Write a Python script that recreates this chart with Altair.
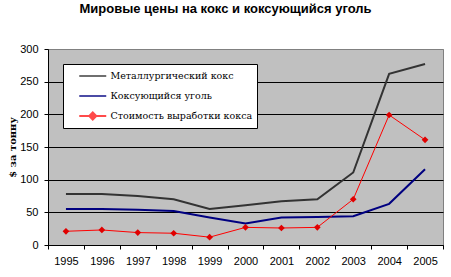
import altair as alt
import pandas as pd

years = [1995, 1996, 1997, 1998, 1999, 2000, 2001, 2002, 2003, 2004, 2005]
coke = [78, 78, 75, 70, 55, 61, 67, 70, 111, 262, 277]
coal = [55, 55, 54, 52, 42, 33, 42, 43, 44, 63, 116]
cost = [21, 23, 19, 18, 12, 27, 26, 27, 70, 199, 161]

series = ["Металлургический кокс", "Коксующийся уголь", "Стоимость выработки кокса"]
colors = ["#333333", "#000080", "#FF0000"]
widths = [2, 2, 1]

rows = []
for name, vals in zip(series, [coke, coal, cost]):
    for y, v in zip(years, vals):
        rows.append({"year": str(y), "value": v, "series": name})
df = pd.DataFrame(rows)

year_labels = [str(y) for y in years]
SERIF = "DejaVu Serif"
SANS = "Liberation Sans, Arial, sans-serif"

x_enc = alt.X("year:O", scale=alt.Scale(type="band", domain=year_labels, paddingInner=0, paddingOuter=0),
              axis=alt.Axis(title=None, labelAngle=0, tickBand="extent", tickSize=4, labelPadding=6,
                            labelFont=SANS, labelFontSize=11, labelColor="black",
                            domainColor="black", tickColor="black", grid=False))
y_enc = alt.Y("value:Q", scale=alt.Scale(domain=[0, 300], nice=False),
              axis=alt.Axis(title="$ за тонну", values=[0, 50, 100, 150, 200, 250, 300],
                            tickSize=4, labelPadding=6, labelFont=SANS, labelFontSize=11,
                            labelColor="black", domainColor="black", tickColor="black",
                            grid=True,
                            gridColor=alt.condition("datum.value == 300", alt.value("#808080"), alt.value("black")),
                            titleFont=SERIF, titleFontSize=10, titleFontWeight="bold",
                            titleAngle=270, titleX=-36, titleY=98, titleAlign="center", titleBaseline="middle",
                            titleColor="black"))

base = alt.Chart(df)

layers = []
for name, col, w in zip(series, colors, widths):
    layers.append(
        base.transform_filter(alt.datum.series == name).mark_line(color=col, strokeWidth=w).encode(x=x_enc, y=y_enc)
    )

points = base.transform_filter(alt.datum.series == series[2]).mark_point(
    filled=True, shape="diamond", color="#E00000", size=45, opacity=1
).encode(x=x_enc, y=y_enc)

line_path = "M-2,0L2,0"
diamond_path = "M-2,0L2,0M0,-0.52L0.52,0L0,0.52L-0.52,0Z"

legend_layer = base.transform_filter("false").mark_point(filled=True, strokeWidth=1.5).encode(
    x=x_enc, y=y_enc,
    color=alt.Color("series:N", scale=alt.Scale(domain=series, range=colors),
                    legend=alt.Legend(title=None, orient="none", legendX=15, legendY=15,
                                      fillColor="white", strokeColor="black", padding=4,
                                      symbolSize=182, symbolOffset=17.75, rowPadding=7,
                                      labelFont=SERIF, labelFontSize=9.5, labelColor="black",
                                      labelLimit=300, labelOffset=9.75, symbolStrokeWidth=2)),
    stroke=alt.Stroke("series:N", scale=alt.Scale(domain=series, range=colors)),
    shape=alt.Shape("series:N", scale=alt.Scale(domain=series, range=[line_path, line_path, diamond_path])),
)

chart = alt.layer(*layers, points, legend_layer).properties(
    width=395, height=196,
    title=alt.TitleParams("Мировые цены на кокс и коксующийся уголь", font=SANS,
                          fontSize=13, fontWeight="bold", color="black", dx=-20, offset=27),
    padding={"left": 48, "top": 49, "right": 8, "bottom": 32},
    autosize=alt.AutoSizeParams(type="none"),
    background="white",
).configure_view(fill="#C0C0C0", stroke="#808080", strokeWidth=1)

chart.save("out.html", embed_options={"renderer": "svg", "actions": False})
